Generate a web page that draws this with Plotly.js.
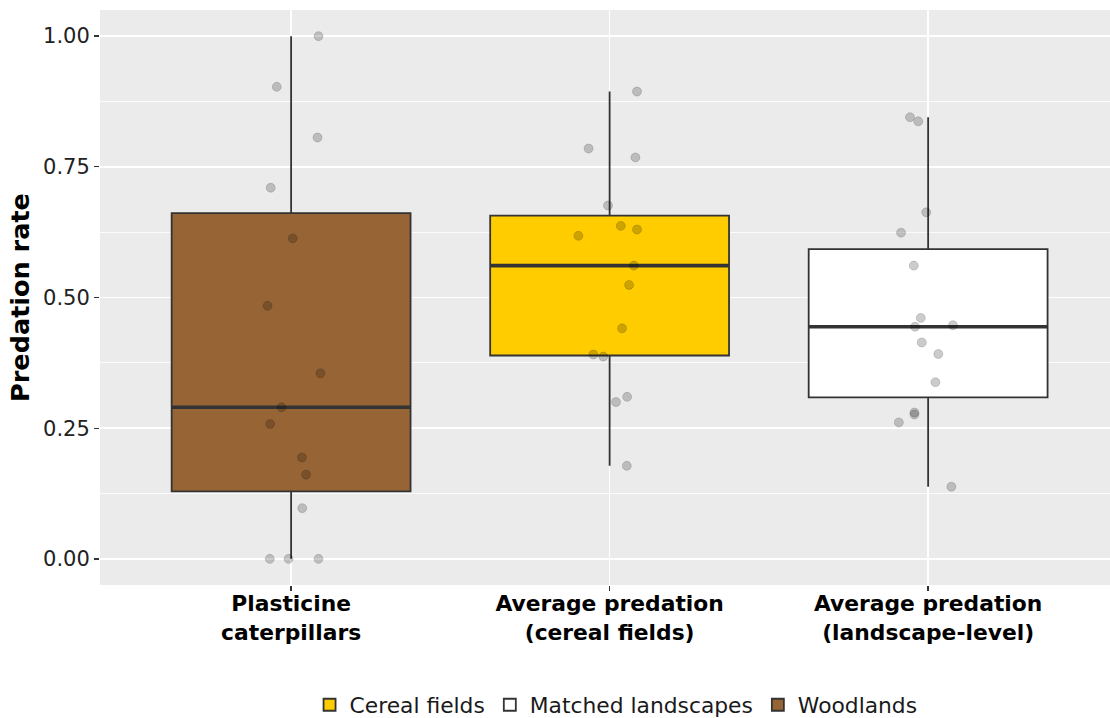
<!DOCTYPE html>
<html>
<head>
<meta charset="utf-8">
<script src="https://cdn.plot.ly/plotly-3.0.1.min.js"></script>
<style>
  html, body { margin: 0; padding: 0; background: #ffffff; overflow: hidden; }
  #chart { width: 1110px; height: 718px; }
</style>
</head>
<body>
<div id="chart"></div>
<script>
// ---------- data ----------
var categories = ["Plasticine<br>caterpillars", "Average predation<br>(cereal fields)", "Average predation<br>(landscape-level)"];
var groupNames = ["Woodlands", "Cereal fields", "Matched landscapes"];

var woodValues = [1.000, 0.903, 0.806, 0.710, 0.613, 0.484, 0.355, 0.290, 0.258, 0.194, 0.161, 0.097, 0.000, 0.000, 0.000];
var woodJitter = [0.086, -0.045, 0.083, -0.064, 0.005, -0.074, 0.092, -0.030, -0.066, 0.034, 0.047, 0.035, -0.067, -0.008, 0.086];

var cerealValues = [0.894, 0.785, 0.768, 0.676, 0.637, 0.630, 0.618, 0.561, 0.524, 0.441, 0.391, 0.387, 0.310, 0.300, 0.178];
var cerealJitter = [0.086, -0.066, 0.081, -0.005, 0.035, 0.086, -0.098, 0.076, 0.061, 0.039, -0.051, -0.020, 0.055, 0.020, 0.054];

var landscapeValues = [0.845, 0.837, 0.663, 0.624, 0.561, 0.461, 0.447, 0.444, 0.414, 0.392, 0.338, 0.280, 0.276, 0.261, 0.138];
var landscapeJitter = [-0.057, -0.031, -0.006, -0.085, -0.045, -0.023, 0.078, -0.041, -0.020, 0.032, 0.023, -0.043, -0.043, -0.092, 0.073];

var yTickValues = [0, 0.25, 0.5, 0.75, 1.0];

// ---------- helpers (R type-7 quantiles, Tukey whiskers) ----------
function quantile7(sorted, p) {
  var h = (sorted.length - 1) * p;
  var lo = Math.floor(h), hi = Math.ceil(h);
  return sorted[lo] + (h - lo) * (sorted[hi] - sorted[lo]);
}
function boxStats(vals) {
  var s = vals.slice().sort(function (a, b) { return a - b; });
  var q1 = quantile7(s, 0.25), med = quantile7(s, 0.5), q3 = quantile7(s, 0.75);
  var iqr = q3 - q1;
  var lf = s.filter(function (v) { return v >= q1 - 1.5 * iqr; })[0];
  var uf = s.filter(function (v) { return v <= q3 + 1.5 * iqr; }).slice(-1)[0];
  return { q1: q1, med: med, q3: q3, lf: lf, uf: uf };
}

var groups = [
  { name: "Cereal fields", pos: 1, vals: cerealValues, jit: cerealJitter, fill: "#FFCC00" },
  { name: "Matched landscapes", pos: 2, vals: landscapeValues, jit: landscapeJitter, fill: "#FFFFFF" },
  { name: "Woodlands", pos: 0, vals: woodValues, jit: woodJitter, fill: "#976535" }
];

var boxWidth = 0.75;
var traces = [];

groups.forEach(function (g) {
  var st = boxStats(g.vals);
  traces.push({
    type: "box",
    name: g.name,
    x: [g.pos],
    q1: [st.q1], median: [st.med], q3: [st.q3],
    lowerfence: [st.lf], upperfence: [st.uf],
    width: boxWidth,
    whiskerwidth: 0,
    boxpoints: false,
    fillcolor: g.fill,
    line: { color: "#333333", width: 1.8 },
    hoverinfo: "skip",
    showlegend: true
  });
});

// thicker median lines (ggplot fatten)
groups.forEach(function (g) {
  var st = boxStats(g.vals);
  traces.push({
    type: "scatter", mode: "lines",
    x: [g.pos - boxWidth / 2, g.pos + boxWidth / 2],
    y: [st.med, st.med],
    line: { color: "#333333", width: 3.6 },
    hoverinfo: "skip", showlegend: false
  });
});

// jittered points
groups.forEach(function (g) {
  traces.push({
    type: "scatter", mode: "markers",
    x: g.jit.map(function (d) { return g.pos + d; }),
    y: g.vals,
    marker: { size: 9, color: "rgba(0,0,0,0.2)", line: { color: "rgba(0,0,0,0.15)", width: 1 } },
    hoverinfo: "skip", showlegend: false
  });
});

var layout = {
  width: 1110, height: 718,
  margin: { l: 100, r: 0, t: 10, b: 133 },
  paper_bgcolor: "#FFFFFF",
  plot_bgcolor: "#EBEBEB",
  font: { family: "DejaVu Sans, sans-serif", color: "#1a1a1a" },
  xaxis: {
    range: [-0.6, 2.571],
    tickmode: "array",
    tickvals: [0, 1, 2],
    ticktext: categories,
    tickfont: { size: 21.8, color: "#000000", weight: "bold" },
    ticks: "outside", ticklen: 5, tickwidth: 1.3, tickcolor: "#333333",
    ticklabelstandoff: -6,
    showgrid: true, gridcolor: "#FFFFFF", gridwidth: 1.6,
    zeroline: false, showline: false, fixedrange: true
  },
  yaxis: {
    range: [-0.05, 1.05],
    tickmode: "array",
    tickvals: yTickValues,
    ticktext: yTickValues.map(function (v) { return v.toFixed(2); }),
    tickfont: { size: 21, color: "#222222" },
    ticks: "outside", ticklen: 5, tickwidth: 1.3, tickcolor: "#333333",
    showgrid: true, gridcolor: "#FFFFFF", gridwidth: 1.6,
    minor: { tickmode: "array", tickvals: [0.125, 0.375, 0.625, 0.875], showgrid: true, gridcolor: "#FFFFFF", gridwidth: 0.8, ticks: "" },
    zeroline: false, showline: false, fixedrange: true,
    title: { text: "Predation rate", font: { size: 25.5, color: "#000000", weight: "bold" }, standoff: 6 }
  },
  legend: {
    orientation: "h",
    xref: "container", yref: "container",
    x: 0.555, xanchor: "center",
    y: 0.018, yanchor: "middle",
    font: { size: 21.8, color: "#1a1a1a" },
    itemwidth: 30,
    traceorder: "normal"
  },
  showlegend: true
};

Plotly.newPlot("chart", traces, layout, { displayModeBar: false, staticPlot: true });
</script>
</body>
</html>
